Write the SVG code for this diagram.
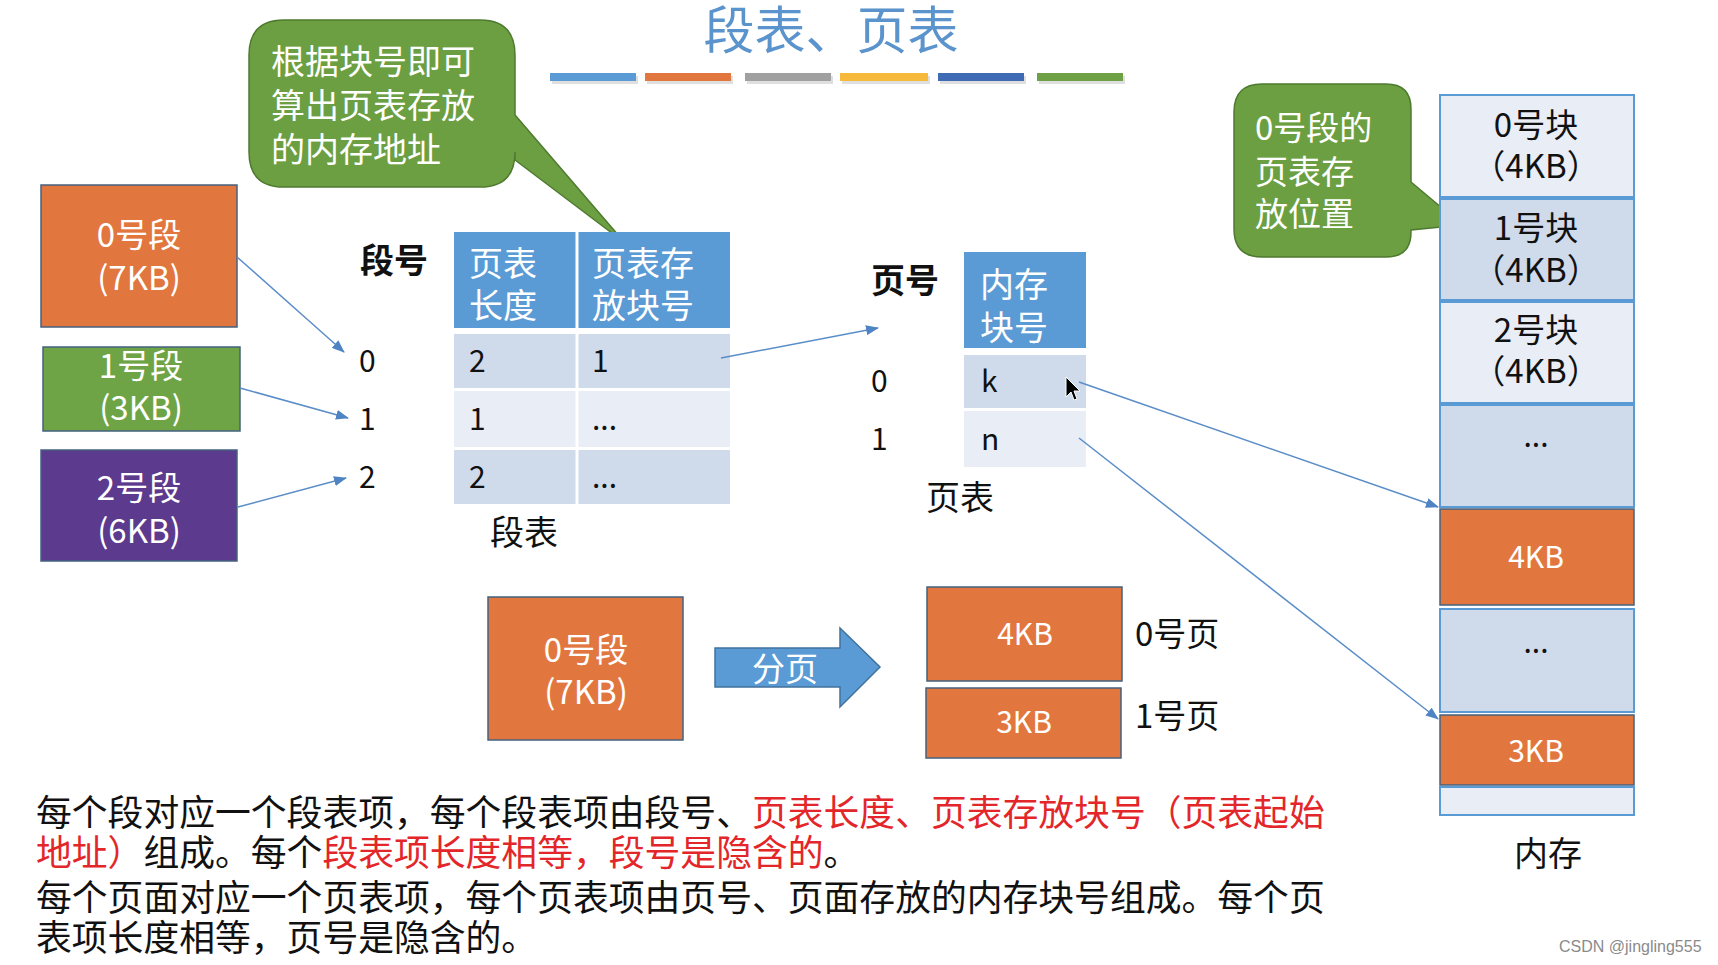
<svg xmlns="http://www.w3.org/2000/svg" width="1718" height="965" viewBox="0 0 1718 965">
<style>
text{font-family:"Noto Sans CJK SC","Noto Sans",sans-serif}
.w{fill:#fff}
.k{fill:#111}
.r{fill:#E3262A}
.c{text-anchor:middle}
.f33{font-size:33px}
.f30{font-size:30px}
.f34{font-size:34px}
.b{font-weight:bold}
.or{fill:#E2763F;stroke:#44627f;stroke-width:1.5}
.hd{fill:#5B9BD5}
.dk{fill:#CFDAEB}
.lt{fill:#E8EDF6}
.mem{stroke:#5B9BD5;stroke-width:2}
.cl{fill:#6C9F41;stroke:#4E7A2F;stroke-width:1.5}
.ln{stroke:#5A8DC8;stroke-width:1.5;fill:none;marker-end:url(#ah)}
</style>
<defs>
<marker id="ah" markerUnits="userSpaceOnUse" markerWidth="13" markerHeight="10" refX="12" refY="5" orient="auto">
<path d="M0,0 L13,5 L0,10 Z" fill="#4F84C4"/>
</marker>
</defs>
<rect width="1718" height="965" fill="#fff"/>

<g id="title">
<text x="831" y="49" class="c" font-size="51" fill="#5B93CC">段表、页表</text>
<g opacity="0.18" fill="#555">
<rect x="552" y="76" width="86" height="8"/><rect x="647" y="76" width="86" height="8"/><rect x="747" y="76" width="86" height="8"/><rect x="842" y="76" width="88" height="8"/><rect x="940" y="76" width="86" height="8"/><rect x="1039" y="76" width="86" height="8"/>
</g>
<rect x="550" y="73" width="86" height="8" fill="#5B9BD5"/>
<rect x="645" y="73" width="86" height="8" fill="#E2763F"/>
<rect x="745" y="73" width="86" height="8" fill="#A0A0A0"/>
<rect x="840" y="73" width="88" height="8" fill="#F6B93B"/>
<rect x="938" y="73" width="86" height="8" fill="#3E6BB3"/>
<rect x="1037" y="73" width="86" height="8" fill="#6EA046"/>
</g>

<g id="callout1">
<path class="cl" d="M284,20 H480 Q515,20 515,55 V115 L625,243 L515,160 V152 Q515,187 480,187 H284 Q249,187 249,152 V55 Q249,20 284,20 Z"/>
<text x="271" y="74" class="w f34">根据块号即可</text>
<text x="271" y="118" class="w f34">算出页表存放</text>
<text x="271" y="162" class="w f34">的内存地址</text>
</g>

<g id="seg0">
<rect x="41" y="185" width="196" height="142" class="or"/>
<text x="139" y="247" class="w c f33">0号段</text>
<text x="139" y="290" class="w c f33">(7KB)</text>
</g>
<g id="seg1">
<rect x="43" y="347" width="197" height="84" fill="#6EA446" stroke="#44627f" stroke-width="1.5"/>
<text x="141" y="378" class="w c f33">1号段</text>
<text x="141" y="420" class="w c f33">(3KB)</text>
</g>
<g id="seg2">
<rect x="41" y="450" width="196" height="111" fill="#5C3A8E" stroke="#44627f" stroke-width="1.5"/>
<text x="139" y="500" class="w c f33">2号段</text>
<text x="139" y="543" class="w c f33">(6KB)</text>
</g>

<g id="segtable">
<text x="360" y="273" class="k f34 b">段号</text>
<rect x="454" y="232" width="276" height="96" class="hd"/>
<rect x="454" y="334" width="276" height="54" class="dk"/>
<rect x="454" y="391" width="276" height="56" class="lt"/>
<rect x="454" y="450" width="276" height="54" class="dk"/>
<line x1="577" y1="232" x2="577" y2="504" stroke="#fff" stroke-width="3"/>
<text x="469" y="276" class="w f34">页表</text>
<text x="469" y="318" class="w f34">长度</text>
<text x="592" y="276" class="w f34">页表存</text>
<text x="592" y="318" class="w f34">放块号</text>
<text x="359" y="372" class="k f30">0</text>
<text x="359" y="430" class="k f30">1</text>
<text x="359" y="488" class="k f30">2</text>
<text x="469" y="372" class="k f30">2</text>
<text x="592" y="372" class="k f30">1</text>
<text x="469" y="430" class="k f30">1</text>
<text x="592" y="430" class="k f30">...</text>
<text x="469" y="488" class="k f30">2</text>
<text x="592" y="488" class="k f30">...</text>
<text x="490" y="545" class="k f34">段表</text>
</g>

<g id="pagetable">
<text x="871" y="293" class="k f34 b">页号</text>
<rect x="964" y="252" width="122" height="96" class="hd"/>
<rect x="964" y="355" width="122" height="53" class="dk"/>
<rect x="964" y="411" width="122" height="56" class="lt"/>
<text x="980" y="297" class="w f34">内存</text>
<text x="980" y="340" class="w f34">块号</text>
<text x="871" y="392" class="k f30">0</text>
<text x="871" y="450" class="k f30">1</text>
<text x="981" y="392" class="k f30">k</text>
<text x="981" y="450" class="k f30">n</text>
<text x="926" y="510" class="k f34">页表</text>
<path d="M1066,377 V397 L1071,392 L1074,400 L1077,399 L1074,391 L1080,391 Z" fill="#000" stroke="#fff" stroke-width="1"/>
</g>

<g id="callout2">
<path class="cl" d="M1262,84 H1386 Q1411,84 1411,109 V182 L1462,225 L1411,230 V232 Q1411,257 1386,257 H1262 Q1234,257 1234,229 V112 Q1234,84 1262,84 Z"/>
<text x="1255" y="140" class="w f33">0号段的</text>
<text x="1255" y="184" class="w f33">页表存</text>
<text x="1255" y="226" class="w f33">放位置</text>
</g>

<g id="memory">
<rect x="1440" y="95" width="194" height="102" class="lt mem"/>
<rect x="1440" y="199" width="194" height="101" class="dk mem"/>
<rect x="1440" y="302" width="194" height="101" class="lt mem"/>
<rect x="1440" y="405" width="194" height="102" class="dk mem"/>
<rect x="1440" y="509" width="194" height="96" class="or"/>
<rect x="1440" y="609" width="194" height="103" class="dk mem"/>
<rect x="1440" y="715" width="194" height="70" class="or"/>
<rect x="1440" y="787" width="194" height="28" class="lt mem"/>
<text x="1536" y="137" class="k c f33">0号块</text>
<text x="1536" y="178" class="k c f33">（4KB）</text>
<text x="1536" y="240" class="k c f33">1号块</text>
<text x="1536" y="282" class="k c f33">（4KB）</text>
<text x="1536" y="342" class="k c f33">2号块</text>
<text x="1536" y="383" class="k c f33">（4KB）</text>
<text x="1536" y="447" class="k c f30">...</text>
<text x="1536" y="568" class="w c f30">4KB</text>
<text x="1536" y="653" class="k c f30">...</text>
<text x="1536" y="762" class="w c f30">3KB</text>
<text x="1514" y="866" class="k f34">内存</text>
</g>

<g id="seg0b">
<rect x="488" y="597" width="195" height="143" class="or"/>
<text x="586" y="662" class="w c f33">0号段</text>
<text x="586" y="704" class="w c f33">(7KB)</text>
</g>
<g id="split">
<path d="M715,648 H840 V628 L880,667 L840,707 V687 H715 Z" fill="#5B9BD5" stroke="#41719C" stroke-width="1.5"/>
<text x="785" y="681" class="w c f33">分页</text>
</g>
<g id="page0">
<rect x="927" y="587" width="195" height="94" class="or"/>
<text x="1025" y="645" class="w c f30">4KB</text>
<text x="1135" y="646" class="k f33">0号页</text>
</g>
<g id="page1">
<rect x="926" y="688" width="195" height="70" class="or"/>
<text x="1024" y="733" class="w c f30">3KB</text>
<text x="1135" y="728" class="k f33">1号页</text>
</g>

<g id="connectors">
<line x1="237" y1="257" x2="344" y2="352" class="ln"/>
<line x1="240" y1="388" x2="348" y2="418" class="ln"/>
<line x1="238" y1="507" x2="346" y2="478" class="ln"/>
<line x1="721" y1="358" x2="878" y2="328" class="ln"/>
<line x1="1079" y1="382" x2="1438" y2="507" class="ln"/>
<line x1="1079" y1="438" x2="1438" y2="719" class="ln"/>
</g>

<g id="notes" font-size="35.8">
<text x="36" y="826" class="k">每个段对应一个段表项，每个段表项由段号、<tspan class="r">页表长度、页表存放块号（页表起始</tspan></text>
<text x="36" y="866"><tspan class="r">地址）</tspan><tspan class="k">组成。每个</tspan><tspan class="r">段表项长度相等，段号是隐含的</tspan><tspan class="k">。</tspan></text>
<text x="36" y="911" class="k">每个页面对应一个页表项，每个页表项由页号、页面存放的内存块号组成。每个页</text>
<text x="36" y="951" class="k">表项长度相等，页号是隐含的。</text>
</g>
<text x="1559" y="952" font-size="16" fill="#8a8a8a" style="font-family:'Liberation Sans',sans-serif">CSDN @jingling555</text>
</svg>
